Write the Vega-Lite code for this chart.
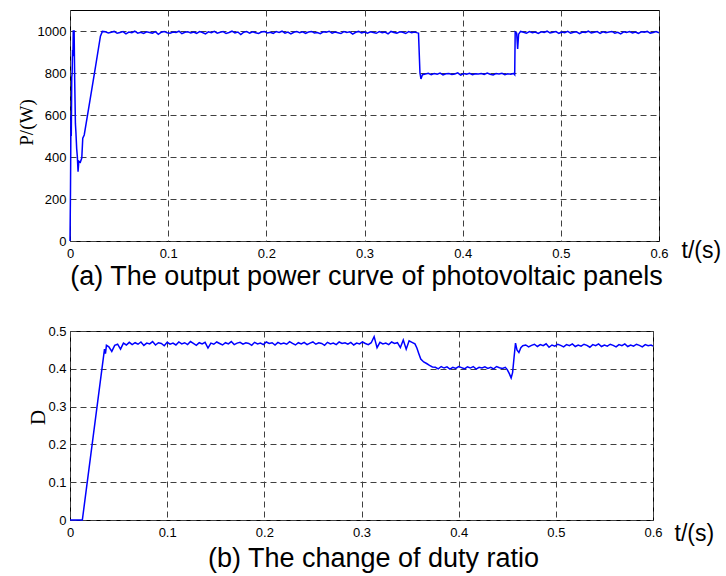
{
"$schema": "https://vega.github.io/schema/vega-lite/v6.json",
"background": "white",
"padding": {"left": 16, "top": 9, "right": 0, "bottom": 0},
"spacing": 33,
"config": {
 "view": {"stroke": "black", "strokeWidth": 1},
 "axis": {"grid": true, "gridColor": "#404040", "gridDash": [6, 4], "gridOpacity": 1, "gridWidth": 1, "domain": false, "ticks": false, "labelFont": "Liberation Sans", "labelFontSize": 13, "labelColor": "black", "labelFlush": false, "labelOverlap": false, "labelBound": false, "titleColor": "black", "titleFontWeight": "normal"},
 "axisX": {"labelPadding": 6, "titleFont": "Liberation Sans", "titleFontSize": 23, "titleAngle": 0, "titleAlign": "left", "titleBaseline": "middle"},
 "axisY": {"labelPadding": 4, "titleFont": "Liberation Serif", "titleAngle": 270, "titleAlign": "center", "titleBaseline": "middle"},
 "title": {"font": "Liberation Sans", "fontSize": 27, "fontWeight": "normal", "color": "black"}
},
"datasets": {
 "power": [
  {"t":0,"p":0},{"t":0.0005,"p":240},{"t":0.001,"p":600},{"t":0.0013,"p":500},{"t":0.0018,"p":780},{"t":0.0022,"p":800},{"t":0.0026,"p":910},{"t":0.003,"p":880},{"t":0.0033,"p":1000},{"t":0.0042,"p":1000},{"t":0.0048,"p":760},{"t":0.0055,"p":560},{"t":0.006,"p":520},{"t":0.0068,"p":440},{"t":0.0075,"p":400},{"t":0.0082,"p":330},{"t":0.009,"p":380},{"t":0.0105,"p":375},{"t":0.012,"p":395},{"t":0.013,"p":490},{"t":0.0145,"p":505},{"t":0.02,"p":660},{"t":0.026,"p":830},{"t":0.031,"p":975},{"t":0.033,"p":998},
  {"t":0.036,"p":996},{"t":0.039,"p":991},{"t":0.042,"p":994},{"t":0.045,"p":998},{"t":0.048,"p":989},{"t":0.051,"p":993},{"t":0.054,"p":997},{"t":0.057,"p":986},{"t":0.06,"p":995},{"t":0.063,"p":992},
  {"t":0.066,"p":999},{"t":0.069,"p":990},{"t":0.072,"p":994},{"t":0.075,"p":988},{"t":0.078,"p":996},{"t":0.081,"p":993},{"t":0.084,"p":990},{"t":0.087,"p":997},{"t":0.09,"p":984},{"t":0.093,"p":994},
  {"t":0.096,"p":998},{"t":0.099,"p":992},{"t":0.102,"p":989},{"t":0.105,"p":995},{"t":0.108,"p":993},{"t":0.111,"p":999},{"t":0.114,"p":987},{"t":0.117,"p":994},{"t":0.12,"p":996},{"t":0.123,"p":991},
  {"t":0.126,"p":995},{"t":0.129,"p":989},{"t":0.132,"p":997},{"t":0.135,"p":993},{"t":0.138,"p":986},{"t":0.141,"p":996},{"t":0.144,"p":992},{"t":0.147,"p":998},{"t":0.15,"p":990},{"t":0.153,"p":994},
  {"t":0.156,"p":997},{"t":0.159,"p":988},{"t":0.162,"p":993},{"t":0.165,"p":999},{"t":0.168,"p":991},{"t":0.171,"p":995},{"t":0.174,"p":983},{"t":0.177,"p":994},{"t":0.18,"p":997},{"t":0.183,"p":990},
  {"t":0.186,"p":996},{"t":0.189,"p":992},{"t":0.192,"p":988},{"t":0.195,"p":995},{"t":0.198,"p":998},{"t":0.201,"p":991},{"t":0.204,"p":994},{"t":0.207,"p":989},{"t":0.21,"p":997},{"t":0.213,"p":993},
  {"t":0.216,"p":999},{"t":0.219,"p":990},{"t":0.222,"p":995},{"t":0.225,"p":986},{"t":0.228,"p":994},{"t":0.231,"p":997},{"t":0.234,"p":992},{"t":0.237,"p":996},{"t":0.24,"p":989},{"t":0.243,"p":995},
  {"t":0.246,"p":998},{"t":0.249,"p":991},{"t":0.252,"p":993},{"t":0.255,"p":987},{"t":0.258,"p":996},{"t":0.261,"p":994},{"t":0.264,"p":999},{"t":0.267,"p":990},{"t":0.27,"p":995},{"t":0.273,"p":992},
  {"t":0.276,"p":988},{"t":0.279,"p":997},{"t":0.282,"p":993},{"t":0.285,"p":996},{"t":0.288,"p":985},{"t":0.291,"p":994},{"t":0.294,"p":998},{"t":0.297,"p":991},{"t":0.3,"p":995},{"t":0.303,"p":990},
  {"t":0.306,"p":996},{"t":0.309,"p":993},{"t":0.312,"p":989},{"t":0.315,"p":997},{"t":0.318,"p":992},{"t":0.321,"p":995},{"t":0.324,"p":986},{"t":0.327,"p":998},{"t":0.33,"p":993},{"t":0.333,"p":990},
  {"t":0.336,"p":996},{"t":0.339,"p":994},{"t":0.342,"p":988},{"t":0.345,"p":997},{"t":0.348,"p":992},{"t":0.351,"p":995},{"t":0.354,"p":991},
  {"t":0.355,"p":990},{"t":0.3565,"p":800},{"t":0.3575,"p":772},{"t":0.359,"p":792},
  {"t":0.362,"p":795},{"t":0.365,"p":799},{"t":0.368,"p":792},{"t":0.371,"p":797},{"t":0.374,"p":794},{"t":0.377,"p":800},{"t":0.38,"p":791},{"t":0.383,"p":796},{"t":0.386,"p":798},{"t":0.389,"p":793},
  {"t":0.392,"p":795},{"t":0.395,"p":801},{"t":0.398,"p":790},{"t":0.401,"p":797},{"t":0.404,"p":794},{"t":0.407,"p":799},{"t":0.41,"p":792},{"t":0.413,"p":796},{"t":0.416,"p":795},{"t":0.419,"p":798},
  {"t":0.422,"p":793},{"t":0.425,"p":800},{"t":0.428,"p":794},{"t":0.431,"p":791},{"t":0.434,"p":797},{"t":0.437,"p":795},{"t":0.44,"p":799},{"t":0.443,"p":792},{"t":0.446,"p":796},{"t":0.449,"p":794},{"t":0.452,"p":798},
  {"t":0.453,"p":792},{"t":0.4535,"p":995},{"t":0.455,"p":990},{"t":0.456,"p":915},{"t":0.457,"p":985},{"t":0.459,"p":998},
  {"t":0.462,"p":994},{"t":0.465,"p":990},{"t":0.468,"p":997},{"t":0.471,"p":992},{"t":0.474,"p":995},{"t":0.477,"p":988},{"t":0.48,"p":996},{"t":0.483,"p":993},{"t":0.486,"p":999},{"t":0.489,"p":991},
  {"t":0.492,"p":994},{"t":0.495,"p":997},{"t":0.498,"p":989},{"t":0.501,"p":995},{"t":0.504,"p":992},{"t":0.507,"p":998},{"t":0.51,"p":990},{"t":0.513,"p":994},{"t":0.516,"p":996},{"t":0.519,"p":987},
  {"t":0.522,"p":995},{"t":0.525,"p":993},{"t":0.528,"p":999},{"t":0.531,"p":991},{"t":0.534,"p":994},{"t":0.537,"p":997},{"t":0.54,"p":989},{"t":0.543,"p":996},{"t":0.546,"p":992},{"t":0.549,"p":995},
  {"t":0.552,"p":998},{"t":0.555,"p":990},{"t":0.558,"p":994},{"t":0.561,"p":986},{"t":0.564,"p":996},{"t":0.567,"p":993},{"t":0.57,"p":997},{"t":0.573,"p":991},{"t":0.576,"p":995},{"t":0.579,"p":989},
  {"t":0.582,"p":996},{"t":0.585,"p":994},{"t":0.588,"p":998},{"t":0.591,"p":990},{"t":0.594,"p":993},{"t":0.597,"p":997},{"t":0.6,"p":992}
 ],
 "duty": [
  {"t":0,"d":0},{"t":0.0127,"d":0},{"t":0.0355,"d":0.452},{"t":0.0365,"d":0.44},{"t":0.0375,"d":0.462},
  {"t":0.04,"d":0.458},{"t":0.043,"d":0.446},{"t":0.046,"d":0.462},{"t":0.049,"d":0.465},{"t":0.052,"d":0.452},{"t":0.055,"d":0.468},{"t":0.058,"d":0.463},{"t":0.061,"d":0.47},{"t":0.064,"d":0.464},{"t":0.067,"d":0.469},
  {"t":0.07,"d":0.465},{"t":0.073,"d":0.471},{"t":0.076,"d":0.462},{"t":0.079,"d":0.468},{"t":0.082,"d":0.466},{"t":0.085,"d":0.472},{"t":0.088,"d":0.463},{"t":0.091,"d":0.469},{"t":0.094,"d":0.467},{"t":0.097,"d":0.461},
  {"t":0.1,"d":0.47},{"t":0.103,"d":0.465},{"t":0.106,"d":0.468},{"t":0.109,"d":0.463},{"t":0.112,"d":0.471},{"t":0.115,"d":0.466},{"t":0.118,"d":0.469},{"t":0.121,"d":0.464},{"t":0.124,"d":0.472},{"t":0.127,"d":0.467},
  {"t":0.13,"d":0.462},{"t":0.133,"d":0.469},{"t":0.136,"d":0.466},{"t":0.139,"d":0.47},{"t":0.142,"d":0.455},{"t":0.145,"d":0.468},{"t":0.148,"d":0.465},{"t":0.151,"d":0.471},{"t":0.154,"d":0.467},{"t":0.157,"d":0.463},
  {"t":0.16,"d":0.469},{"t":0.163,"d":0.466},{"t":0.166,"d":0.472},{"t":0.169,"d":0.464},{"t":0.172,"d":0.468},{"t":0.175,"d":0.47},{"t":0.178,"d":0.465},{"t":0.181,"d":0.469},{"t":0.184,"d":0.467},{"t":0.187,"d":0.462},
  {"t":0.19,"d":0.47},{"t":0.193,"d":0.466},{"t":0.196,"d":0.468},{"t":0.199,"d":0.464},{"t":0.202,"d":0.471},{"t":0.205,"d":0.467},{"t":0.208,"d":0.469},{"t":0.211,"d":0.463},{"t":0.214,"d":0.47},{"t":0.217,"d":0.466},
  {"t":0.22,"d":0.468},{"t":0.223,"d":0.465},{"t":0.226,"d":0.472},{"t":0.229,"d":0.467},{"t":0.232,"d":0.463},{"t":0.235,"d":0.469},{"t":0.238,"d":0.466},{"t":0.241,"d":0.47},{"t":0.244,"d":0.464},{"t":0.247,"d":0.468},
  {"t":0.25,"d":0.471},{"t":0.253,"d":0.465},{"t":0.256,"d":0.469},{"t":0.259,"d":0.467},{"t":0.262,"d":0.462},{"t":0.265,"d":0.47},{"t":0.268,"d":0.466},{"t":0.271,"d":0.468},{"t":0.274,"d":0.464},{"t":0.277,"d":0.471},
  {"t":0.28,"d":0.467},{"t":0.283,"d":0.469},{"t":0.286,"d":0.465},{"t":0.289,"d":0.47},{"t":0.292,"d":0.463},{"t":0.295,"d":0.468},{"t":0.298,"d":0.466},{"t":0.301,"d":0.471},{"t":0.304,"d":0.467},{"t":0.307,"d":0.464},
  {"t":0.31,"d":0.469},{"t":0.313,"d":0.485},{"t":0.316,"d":0.456},{"t":0.319,"d":0.47},{"t":0.322,"d":0.466},{"t":0.325,"d":0.468},{"t":0.328,"d":0.464},{"t":0.331,"d":0.471},{"t":0.334,"d":0.467},{"t":0.337,"d":0.469},
  {"t":0.34,"d":0.456},{"t":0.343,"d":0.476},{"t":0.346,"d":0.452},{"t":0.349,"d":0.474},
  {"t":0.352,"d":0.47},{"t":0.355,"d":0.466},{"t":0.357,"d":0.455},{"t":0.359,"d":0.44},{"t":0.361,"d":0.426},{"t":0.364,"d":0.418},{"t":0.367,"d":0.414},{"t":0.37,"d":0.409},{"t":0.373,"d":0.405},
  {"t":0.376,"d":0.404},{"t":0.379,"d":0.4},{"t":0.382,"d":0.406},{"t":0.385,"d":0.402},{"t":0.388,"d":0.405},{"t":0.391,"d":0.399},{"t":0.394,"d":0.404},{"t":0.397,"d":0.401},{"t":0.4,"d":0.406},{"t":0.403,"d":0.403},
  {"t":0.406,"d":0.4},{"t":0.409,"d":0.405},{"t":0.412,"d":0.402},{"t":0.415,"d":0.406},{"t":0.418,"d":0.399},{"t":0.421,"d":0.404},{"t":0.424,"d":0.402},{"t":0.427,"d":0.405},{"t":0.43,"d":0.401},{"t":0.433,"d":0.404},
  {"t":0.436,"d":0.4},{"t":0.439,"d":0.406},{"t":0.442,"d":0.403},{"t":0.445,"d":0.401},{"t":0.448,"d":0.404},
  {"t":0.45,"d":0.398},{"t":0.452,"d":0.388},{"t":0.454,"d":0.376},{"t":0.4555,"d":0.39},{"t":0.457,"d":0.43},{"t":0.4585,"d":0.468},{"t":0.46,"d":0.45},{"t":0.462,"d":0.443},{"t":0.464,"d":0.456},{"t":0.466,"d":0.461},
  {"t":0.469,"d":0.463},{"t":0.472,"d":0.458},{"t":0.475,"d":0.462},{"t":0.478,"d":0.465},{"t":0.481,"d":0.459},{"t":0.484,"d":0.464},{"t":0.487,"d":0.461},{"t":0.49,"d":0.466},{"t":0.493,"d":0.457},{"t":0.496,"d":0.463},
  {"t":0.499,"d":0.46},{"t":0.502,"d":0.465},{"t":0.505,"d":0.462},{"t":0.508,"d":0.458},{"t":0.511,"d":0.464},{"t":0.514,"d":0.461},{"t":0.517,"d":0.466},{"t":0.52,"d":0.459},{"t":0.523,"d":0.463},{"t":0.526,"d":0.46},
  {"t":0.529,"d":0.465},{"t":0.532,"d":0.462},{"t":0.535,"d":0.457},{"t":0.538,"d":0.464},{"t":0.541,"d":0.461},{"t":0.544,"d":0.466},{"t":0.547,"d":0.459},{"t":0.55,"d":0.463},{"t":0.553,"d":0.46},{"t":0.556,"d":0.465},
  {"t":0.559,"d":0.462},{"t":0.562,"d":0.458},{"t":0.565,"d":0.464},{"t":0.568,"d":0.461},{"t":0.571,"d":0.466},{"t":0.574,"d":0.459},{"t":0.577,"d":0.463},{"t":0.58,"d":0.46},{"t":0.583,"d":0.465},{"t":0.586,"d":0.462},
  {"t":0.589,"d":0.458},{"t":0.592,"d":0.464},{"t":0.595,"d":0.461},{"t":0.598,"d":0.463},{"t":0.6,"d":0.46}
 ]
},
"vconcat": [
 {
  "width": 589, "height": 231,
  "data": {"name": "power"},
  "title": {"text": "(a) The output power curve of photovoltaic panels", "orient": "bottom", "anchor": "middle", "frame": "group", "offset": 2, "dx": 2},
  "mark": {"type": "line", "color": "#0000ff", "strokeWidth": 1.5},
  "encoding": {
   "x": {"field": "t", "type": "quantitative", "scale": {"domain": [0, 0.6], "nice": false, "zero": false},
         "axis": {"values": [0, 0.1, 0.2, 0.3, 0.4, 0.5, 0.6], "format": "~r", "title": "t/(s)", "titleX": 611, "titleY": 9}},
   "y": {"field": "p", "type": "quantitative", "scale": {"domain": [0, 1100], "nice": false},
         "axis": {"values": [0, 200, 400, 600, 800, 1000], "format": "~r", "title": "P/(W)", "titleX": -44, "titleY": 112, "titleFontSize": 19}}
  }
 },
 {
  "width": 583, "height": 189,
  "data": {"name": "duty"},
  "title": {"text": "(b) The change of duty ratio", "orient": "bottom", "anchor": "middle", "frame": "group", "offset": 1, "dx": 12},
  "mark": {"type": "line", "color": "#0000ff", "strokeWidth": 1.5},
  "encoding": {
   "x": {"field": "t", "type": "quantitative", "scale": {"domain": [0, 0.6], "nice": false, "zero": false},
         "axis": {"values": [0, 0.1, 0.2, 0.3, 0.4, 0.5, 0.6], "format": "~r", "title": "t/(s)", "titleX": 604, "titleY": 13}},
   "y": {"field": "d", "type": "quantitative", "scale": {"domain": [0, 0.5], "nice": false},
         "axis": {"values": [0, 0.1, 0.2, 0.3, 0.4, 0.5], "format": "~r", "title": "D", "titleX": -31.5, "titleY": 86, "titleFontSize": 21}}
  }
 }
]
}
